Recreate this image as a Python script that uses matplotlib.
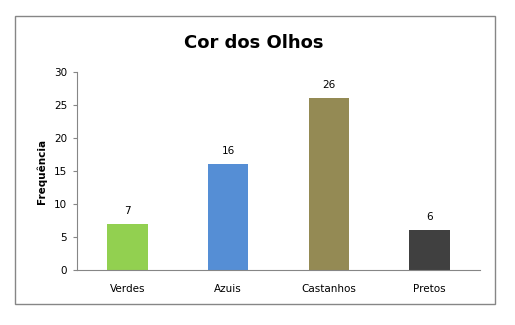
import matplotlib
matplotlib.use('Agg')
import matplotlib.pyplot as plt
from matplotlib.patches import Rectangle

categories = ['Verdes', 'Azuis', 'Castanhos', 'Pretos']
values = [7, 16, 26, 6]
colors = ['#92D050', '#558ED5', '#948A54', '#404040']

plt.rcParams['font.family'] = ['DejaVu Sans']

fig = plt.figure(figsize=(5.15, 3.25), dpi=100)
fig.patches.append(Rectangle((15 / 515, 1 - 304 / 325), 480 / 515, 288 / 325,
                             transform=fig.transFigure, fill=False,
                             edgecolor='#868686', linewidth=1))

ax = fig.add_axes([77 / 515, 1 - 270 / 325, 403 / 515, 198 / 325])
x = range(len(categories))
bars = ax.bar(x, values, width=0.4, color=colors)
for i, v in enumerate(values):
    ax.text(i, v + 1.2, str(v), ha='center', va='bottom', fontsize=7.5)

ax.set_xlim(-0.5, 3.5)
ax.set_ylim(0, 30)
ax.set_yticks([0, 5, 10, 15, 20, 25, 30])
ax.set_xticks(list(x))
ax.set_xticklabels(categories)
ax.tick_params(axis='x', length=0, pad=10, labelsize=7.5)
ax.tick_params(axis='y', length=3, color='#868686', labelsize=7.5, pad=4)
for s in ['top', 'right']:
    ax.spines[s].set_visible(False)
for s in ['left', 'bottom']:
    ax.spines[s].set_color('#868686')
ax.set_ylabel('Frequência', fontsize=7.5, fontweight='bold', labelpad=5)
fig.text(254 / 515, 1 - 43 / 325, 'Cor dos Olhos', ha='center', va='center',
         fontsize=13, fontweight='bold')

fig.savefig('out.png', dpi=100)
